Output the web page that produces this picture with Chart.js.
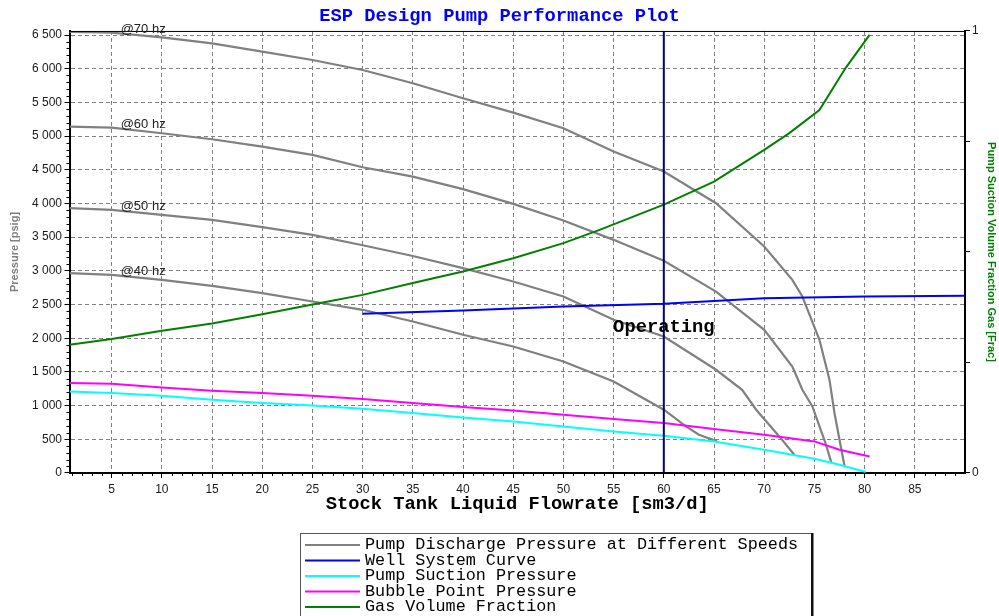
<!DOCTYPE html>
<html lang="en">
<head>
<meta charset="UTF-8">
<title>ESP Design Pump Performance Plot</title>
<script src="https://cdn.jsdelivr.net/npm/chart.js"></script>
<style>
  html, body { margin: 0; padding: 0; background: #fff; }
  #pumpChart { display: block; }
</style>
</head>
<body>
<canvas id="pumpChart" width="999" height="616"></canvas>
<script>
  // ---- data ----
  const chartTitle = 'ESP Design Pump Performance Plot';
  const xTitle = 'Stock Tank Liquid Flowrate [sm3/d]';
  const yTitle = 'Pressure [psig]';
  const y2Title = 'Pump Suction Volume Fraction Gas [Frac]';

  const xTicks = [5, 10, 15, 20, 25, 30, 35, 40, 45, 50, 55, 60, 65, 70, 75, 80, 85];
  const yTicks = [0, 500, 1000, 1500, 2000, 2500, 3000, 3500, 4000, 4500, 5000, 5500, 6000, 6500];
  const y2Ticks = [0, 0.25, 0.5, 0.75, 1];

  const speedLabels = ['@70 hz', '@60 hz', '@50 hz', '@40 hz'];

  // pump discharge pressure per speed (flow sm3/d, pressure psig)
  const q70 = [0.8, 5, 10, 15, 20, 25, 30, 35, 40, 45, 50, 55, 60, 65.2, 70, 72.8, 73.8, 75.5, 76.5, 77, 77.5, 78];
  const p70 = [6545, 6534, 6466, 6377, 6253, 6129, 5981, 5784, 5561, 5348, 5116, 4770, 4473, 4004, 3361, 2866, 2619, 1977, 1384, 890, 494, 105];
  const q60 = [0.8, 5, 10, 15, 20, 25, 30, 35, 40, 45, 50, 55, 60, 65.2, 70, 72.8, 73.8, 74.8, 76.1, 76.7];
  const p60 = [5140, 5125, 5042, 4953, 4843, 4720, 4538, 4399, 4212, 3994, 3746, 3460, 3150, 2693, 2125, 1581, 1235, 988, 445, 150];
  const q50 = [0.8, 5, 10, 15, 20, 25, 30, 35, 40, 45, 50, 55, 60, 65.2, 67.8, 69.2, 71.5, 73];
  const p50 = [3930, 3905, 3831, 3756, 3648, 3534, 3380, 3220, 3040, 2842, 2619, 2273, 2026, 1532, 1235, 939, 543, 270];
  const q40 = [0.8, 5, 10, 15, 20, 25, 30, 35, 40, 45, 50, 55, 60, 62.2, 63.5, 65.3];
  const p40 = [2966, 2941, 2867, 2778, 2669, 2545, 2422, 2249, 2051, 1877, 1655, 1358, 939, 691, 568, 470];

  // well system curve
  const qWell = [30, 40, 50, 60, 70, 80, 90];
  const pWell = [2362, 2412, 2471, 2511, 2595, 2619, 2630];

  // pump suction pressure
  const qSuction = [0.8, 5, 10, 15, 20, 25, 30, 35, 40, 45, 50, 55, 60, 65, 70, 75, 77.5, 80.1];
  const pSuction = [1210, 1186, 1146, 1087, 1038, 1003, 954, 890, 825, 766, 691, 617, 553, 469, 346, 212, 123, 15];

  // bubble point pressure
  const qBubble = [0.8, 5, 10, 15, 20, 25, 30, 35, 40, 45, 50, 55, 60, 65, 70, 75, 77.5, 80.5];
  const pBubble = [1335, 1324, 1270, 1221, 1186, 1146, 1097, 1038, 979, 928, 865, 801, 741, 652, 568, 469, 346, 246];

  // gas volume fraction at pump suction (right axis)
  const qGas = [0.8, 5, 10, 15, 20, 25, 30, 35, 40, 45, 50, 53.6, 60, 65, 70, 72.5, 75.5, 78.1, 80.5];
  const fGas = [0.290, 0.303, 0.322, 0.338, 0.359, 0.381, 0.403, 0.430, 0.456, 0.486, 0.520, 0.550, 0.607, 0.659, 0.731, 0.769, 0.821, 0.916, 0.991];

  const opFlow = 60;
  const opLabel = 'Operating';

  const legendNames = [
    'Pump Discharge Pressure at Different Speeds',
    'Well System Curve',
    'Pump Suction Pressure',
    'Bubble Point Pressure',
    'Gas Volume Fraction'
  ];

  // ---- styles ----
  const MONO = "'Liberation Mono', 'Courier New', monospace";
  const SANS = "'Liberation Sans', Arial, sans-serif";
  const GREY = '#808080', BLUE = '#0000ff', CYAN = '#00ffff', MAGENTA = '#ff00ff', GREEN = '#008000', NAVY = '#000080';
  const legendColors = [GREY, BLUE, CYAN, MAGENTA, GREEN];

  const Y_MAX = 6560;
  const pts = (xs, ys) => xs.map((x, i) => ({ x, y: ys[i] }));
  const thousands = v => String(v).replace(/\B(?=(\d{3})+(?!\d))/g, ' ');

  const line = (data, color, order, extra) => Object.assign({
    data, borderColor: color, backgroundColor: color, borderWidth: 2,
    showLine: true, pointRadius: 0, tension: 0, order
  }, extra || {});

  const speedSets = [[q70, p70], [q60, p60], [q50, p50], [q40, p40]]
    .map(([q, p]) => line(pts(q, p), GREY, 5, { borderWidth: 2.2 }));

  // little extras drawn on top of the chart: top border, minor ticks, labels, legend box
  const decorations = {
    id: 'decorations',
    afterDraw(chart) {
      const { ctx, chartArea: a, scales } = chart;
      const xs = scales.x, ys = scales.y;
      ctx.save();

      // top frame line
      ctx.strokeStyle = '#000';
      ctx.lineWidth = 1;
      ctx.beginPath();
      ctx.moveTo(a.left, a.top + 0.5);
      ctx.lineTo(a.right, a.top + 0.5);
      ctx.stroke();

      // minor ticks
      ctx.beginPath();
      for (let q = 1; q < 90; q++) {
        if (q % 5 === 0) continue;
        const px = Math.round(xs.getPixelForValue(q)) + 0.5;
        ctx.moveTo(px, a.bottom);
        ctx.lineTo(px, a.bottom + 3);
      }
      for (let p = 100; p < Y_MAX; p += 100) {
        if (p % 500 === 0) continue;
        const py = Math.round(ys.getPixelForValue(p)) + 0.5;
        ctx.moveTo(a.left - 3, py);
        ctx.lineTo(a.left, py);
      }
      ctx.stroke();

      // speed labels next to each curve
      ctx.font = '13px ' + SANS;
      ctx.fillStyle = '#222';
      ctx.textAlign = 'left';
      ctx.textBaseline = 'alphabetic';
      speedLabels.forEach((txt, i) => {
        const p = chart.getDatasetMeta(i).data[1];
        ctx.fillText(txt, p.x + 9, p.y);
      });

      // operating point label
      ctx.font = 'bold 18.8px ' + MONO;
      ctx.fillStyle = '#000';
      ctx.textAlign = 'center';
      ctx.textBaseline = 'middle';
      ctx.fillText(opLabel, xs.getPixelForValue(opFlow), ys.getPixelForValue(2170));

      // legend box
      const bx = 300, by = 533, bw = 511;
      ctx.fillStyle = '#fff';
      ctx.fillRect(bx, by, bw, 90);
      ctx.strokeStyle = '#555';
      ctx.lineWidth = 1;
      ctx.strokeRect(bx + 0.5, by + 0.5, bw, 100);
      ctx.fillStyle = '#111';
      ctx.fillRect(bx + bw, by, 2.5, 90);
      ctx.font = '16.8px ' + MONO;
      ctx.textAlign = 'left';
      ctx.textBaseline = 'middle';
      legendNames.forEach((name, i) => {
        const ry = by + 12 + i * 15.5;
        ctx.strokeStyle = legendColors[i];
        ctx.lineWidth = 2;
        ctx.beginPath();
        ctx.moveTo(bx + 5, ry);
        ctx.lineTo(bx + 60, ry);
        ctx.stroke();
        ctx.fillStyle = '#000';
        ctx.fillText(name, bx + 65, ry);
      });

      ctx.restore();
    }
  };

  new Chart(document.getElementById('pumpChart'), {
    type: 'scatter',
    data: {
      datasets: [
        ...speedSets,
        line(pts(qWell, pWell), BLUE, 2),
        line(pts(qSuction, pSuction), CYAN, 4),
        line(pts(qBubble, pBubble), MAGENTA, 3),
        line(pts(qGas, fGas), GREEN, 1, { yAxisID: 'y1' }),
        line(pts([opFlow, opFlow], [0, Y_MAX]), NAVY, 0)
      ]
    },
    options: {
      responsive: false,
      animation: false,
      layout: { padding: { top: 0, bottom: 100, left: 0, right: 0 } },
      plugins: {
        legend: { display: false },
        tooltip: { enabled: false },
        title: {
          display: true,
          text: chartTitle,
          color: BLUE,
          font: { family: MONO, size: 18.8, weight: 'bold' },
          padding: { top: 5, bottom: 3.4 }
        }
      },
      scales: {
        x: {
          type: 'linear',
          min: 0.8,
          max: 90,
          afterBuildTicks: s => { s.ticks = xTicks.map(v => ({ value: v })); },
          afterFit: s => { s.height = 43; },
          grid: { color: GREY, tickColor: '#000', tickLength: 5 },
          border: { color: '#000', width: 2, dash: [4, 3] },
          ticks: { color: '#1a1a1a', padding: 4.5, maxRotation: 0, font: { family: SANS, size: 12 } },
          title: {
            display: true, text: xTitle, color: '#000',
            font: { family: MONO, size: 18.8, weight: 'bold' },
            padding: { top: 0, bottom: 0 }
          }
        },
        y: {
          position: 'left',
          min: 0,
          max: Y_MAX,
          afterBuildTicks: s => { s.ticks = yTicks.map(v => ({ value: v })); },
          afterFit: s => { s.width = 69.5; },
          grid: { color: GREY, tickColor: '#000', tickLength: 5 },
          border: { color: '#000', width: 2, dash: [4, 3] },
          ticks: { color: '#1a1a1a', padding: 2.5, font: { family: SANS, size: 12 }, callback: v => thousands(v) },
          title: {
            display: true, text: yTitle, color: GREY,
            font: { family: SANS, size: 11, weight: 'bold' },
            padding: { top: 8.4, bottom: 0 }
          }
        },
        y1: {
          position: 'right',
          min: 0,
          max: 1,
          afterBuildTicks: s => { s.ticks = y2Ticks.map(v => ({ value: v })); },
          afterFit: s => { s.width = 34; },
          grid: { drawOnChartArea: false, color: '#000', tickLength: 5 },
          border: { color: '#000', width: 2 },
          ticks: {
            color: '#1a1a1a', padding: 2, font: { family: SANS, size: 12 },
            callback: v => (v === 0 || v === 1) ? String(v) : ''
          },
          title: {
            display: true, text: y2Title, color: GREEN,
            font: { family: SANS, size: 11, weight: 'bold' },
            padding: { top: 1.4, bottom: 0 }
          }
        }
      }
    },
    plugins: [decorations]
  });
</script>
</body>
</html>
